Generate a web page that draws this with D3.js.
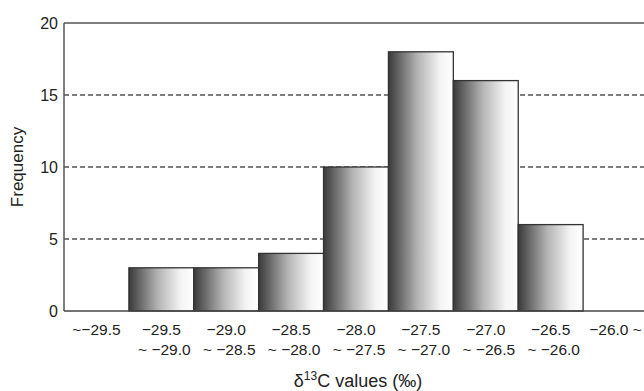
<!DOCTYPE html>
<html>
<head>
<meta charset="utf-8">
<script src="https://cdn.jsdelivr.net/npm/d3@7"></script>
<style>
body { margin: 0; background: #fff; }
text { font-family: "Liberation Sans", Arial, sans-serif; fill: #222; }
</style>
</head>
<body>
<div id="main_div"></div>
<script>
var bins = ["b1", "b2", "b3", "b4", "b5", "b6", "b7", "b8", "b9"];
var top_labels = ["~\u221229.5", "\u221229.5", "\u221229.0", "\u221228.5", "\u221228.0", "\u221227.5", "\u221227.0", "\u221226.5", "\u221226.0 ~"];
var bottom_labels = ["", "~ \u221229.0", "~ \u221228.5", "~ \u221228.0", "~ \u221227.5", "~ \u221227.0", "~ \u221226.5", "~ \u221226.0", ""];
var counts = [0, 3, 3, 4, 10, 18, 16, 6, 0];
var y_ticks = [0, 5, 10, 15, 20];

var x_scale = d3.scaleBand().domain(bins).range([64, 648]).padding(0);
var y_scale = d3.scaleLinear().domain([0, 20]).range([311, 23]);

var svg = d3.select("#main_div").append("svg").attr("width", 644).attr("height", 391);

var grad = svg.append("defs").append("linearGradient").attr("id", "barfill")
    .attr("x1", "0%").attr("x2", "100%").attr("y1", "0%").attr("y2", "0%");
grad.append("stop").attr("offset", "0%").attr("stop-color", "#3a3a3a");
grad.append("stop").attr("offset", "45%").attr("stop-color", "#b4b4b4");
grad.append("stop").attr("offset", "80%").attr("stop-color", "#f4f4f4");
grad.append("stop").attr("offset", "100%").attr("stop-color", "#ffffff");

// dashed grid
svg.append("g").selectAll("line").data([5, 10, 15]).enter().append("line")
    .attr("x1", 64).attr("x2", 644)
    .attr("y1", function(d) { return y_scale(d); })
    .attr("y2", function(d) { return y_scale(d); })
    .attr("stroke", "#555").attr("stroke-width", 1.3)
    .attr("stroke-dasharray", "5,3");

// bars
var bar_data = bins.map(function(b, i) { return { bin: b, n: counts[i] }; })
    .filter(function(d) { return d.n > 0; });
svg.append("g").selectAll("rect").data(bar_data).enter().append("rect")
    .attr("x", function(d) { return x_scale(d.bin); })
    .attr("y", function(d) { return y_scale(d.n); })
    .attr("width", x_scale.bandwidth())
    .attr("height", function(d) { return y_scale(0) - y_scale(d.n); })
    .attr("fill", "url(#barfill)")
    .attr("stroke", "#333").attr("stroke-width", 1.3);

// frame: left axis, top, baseline
svg.append("line").attr("x1", 64).attr("x2", 64).attr("y1", y_scale(20)).attr("y2", y_scale(0))
    .attr("stroke", "#555").attr("stroke-width", 1.5);
svg.append("line").attr("x1", 64).attr("x2", 644).attr("y1", y_scale(20)).attr("y2", y_scale(20))
    .attr("stroke", "#555").attr("stroke-width", 1.5);
svg.append("line").attr("x1", 64).attr("x2", 644).attr("y1", y_scale(0)).attr("y2", y_scale(0))
    .attr("stroke", "#444").attr("stroke-width", 1.5);

// y tick labels
svg.append("g").selectAll("text").data(y_ticks).enter().append("text")
    .attr("x", 58).attr("y", function(d) { return y_scale(d); })
    .attr("dy", "0.35em").attr("text-anchor", "end")
    .style("font-size", "16px")
    .text(function(d) { return d; });

svg.append("text")
    .attr("transform", "translate(23," + y_scale(10) + ") rotate(-90)")
    .attr("text-anchor", "middle").style("font-size", "17px")
    .text("Frequency");

// x labels
svg.append("g").selectAll("text").data(top_labels).enter().append("text")
    .attr("x", function(d, i) { return x_scale(bins[i]) + x_scale.bandwidth() / 2; })
    .attr("y", 335).attr("text-anchor", "middle").style("font-size", "15.5px")
    .text(function(d) { return d; });
svg.append("g").selectAll("text").data(bottom_labels).enter().append("text")
    .attr("x", function(d, i) { return x_scale(bins[i]) + x_scale.bandwidth() / 2 + 3; })
    .attr("y", 355).attr("text-anchor", "middle").style("font-size", "15.5px")
    .text(function(d) { return d; });

var xt = svg.append("text").attr("x", 358).attr("y", 387)
    .attr("text-anchor", "middle").style("font-size", "18px");
xt.append("tspan").text("\u03b4");
xt.append("tspan").attr("dy", -7).style("font-size", "12px").text("13");
xt.append("tspan").attr("dy", 7).text("C values (\u2030)");
</script>
</body>
</html>
